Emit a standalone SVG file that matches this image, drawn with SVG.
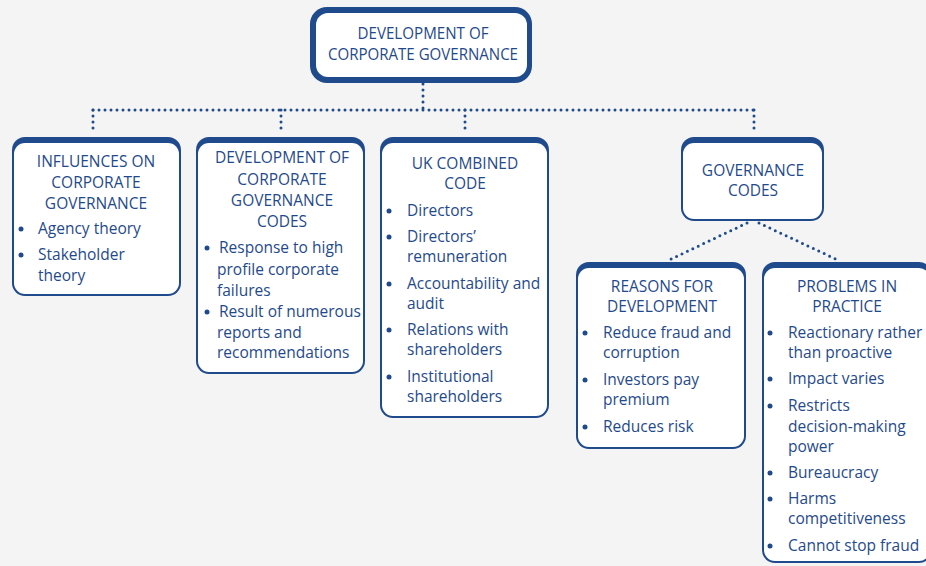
<svg xmlns="http://www.w3.org/2000/svg" width="926" height="566" viewBox="0 0 926 566">
<style>
.t{font-family:"Open Sans","Liberation Sans",sans-serif;font-size:15.5px;fill:#1f4a8c}
.c{text-anchor:middle}
.b{fill:#1f4a8c}
.w{fill:#ffffff}
.dot{fill:none;stroke:#1f4a8c;stroke-width:3;stroke-linecap:round;stroke-dasharray:0 6}
</style>
<rect width="926" height="566" fill="#f4f4f4"/>
<g id="connectors">
<path class="dot" d="M423 84 V110"/>
<path class="dot" d="M93 110 H754"/>
<path class="dot" d="M93 110 V134"/>
<path class="dot" d="M281 110 V134"/>
<path class="dot" d="M465 110 V134"/>
<path class="dot" d="M754 110 V134"/>
<path class="dot" d="M747 223 L667 261"/>
<path class="dot" d="M759 223 L840 261"/>
</g>
<g id="main">
<rect class="b" x="310" y="7" width="222" height="76" rx="17"/>
<rect class="w" x="316" y="13" width="211" height="64" rx="12"/>
<text class="t c" x="423" y="39" style="font-size:16.5px" textLength="131" lengthAdjust="spacingAndGlyphs">DEVELOPMENT OF</text>
<text class="t c" x="423" y="60" style="font-size:16.5px" textLength="190" lengthAdjust="spacingAndGlyphs">CORPORATE GOVERNANCE</text>
</g>
<g id="influences">
<rect class="b" x="12" y="137" width="169" height="159" rx="13"/>
<rect class="w" x="14" y="143" width="165" height="151" rx="11"/>
<text class="t c" x="96" y="167">INFLUENCES ON</text>
<text class="t c" x="96" y="188">CORPORATE</text>
<text class="t c" x="96" y="209">GOVERNANCE</text>
<circle class="b" cx="21" cy="229" r="2.5"/>
<text class="t" x="38" y="234">Agency theory</text>
<circle class="b" cx="21" cy="255" r="2.5"/>
<text class="t" x="38" y="260">Stakeholder</text>
<text class="t" x="38" y="281">theory</text>
</g>
<g id="devcodes">
<rect class="b" x="196" y="137" width="169" height="237" rx="13"/>
<rect class="w" x="198" y="143" width="165" height="229" rx="11"/>
<text class="t c" x="282" y="163">DEVELOPMENT OF</text>
<text class="t c" x="282" y="185">CORPORATE</text>
<text class="t c" x="282" y="206">GOVERNANCE</text>
<text class="t c" x="282" y="227">CODES</text>
<circle class="b" cx="207" cy="248" r="2.5"/>
<text class="t" x="219" y="253">Response to high</text>
<text class="t" x="217" y="275">profile corporate</text>
<text class="t" x="217" y="296">failures</text>
<circle class="b" cx="207" cy="312" r="2.5"/>
<text class="t" x="219" y="317">Result of numerous</text>
<text class="t" x="217" y="338">reports and</text>
<text class="t" x="217" y="358">recommendations</text>
</g>
<g id="ukcode">
<rect class="b" x="380" y="137" width="169" height="281" rx="13"/>
<rect class="w" x="382" y="143" width="165" height="273" rx="11"/>
<text class="t c" x="465" y="169">UK COMBINED</text>
<text class="t c" x="465" y="189">CODE</text>
<circle class="b" cx="389" cy="211" r="2.5"/>
<text class="t" x="407" y="216">Directors</text>
<circle class="b" cx="389" cy="237" r="2.5"/>
<text class="t" x="407" y="242">Directors’</text>
<text class="t" x="407" y="262">remuneration</text>
<circle class="b" cx="389" cy="284" r="2.5"/>
<text class="t" x="407" y="289">Accountability and</text>
<text class="t" x="407" y="309">audit</text>
<circle class="b" cx="389" cy="330" r="2.5"/>
<text class="t" x="407" y="335">Relations with</text>
<text class="t" x="407" y="355">shareholders</text>
<circle class="b" cx="389" cy="377" r="2.5"/>
<text class="t" x="407" y="382">Institutional</text>
<text class="t" x="407" y="402">shareholders</text>
</g>
<g id="govcodes">
<rect class="b" x="681" y="137" width="143" height="84" rx="13"/>
<rect class="w" x="683" y="143" width="139" height="76" rx="11"/>
<text class="t c" x="753" y="176">GOVERNANCE</text>
<text class="t c" x="753" y="196">CODES</text>
</g>
<g id="reasons">
<rect class="b" x="576" y="262" width="170" height="187" rx="13"/>
<rect class="w" x="578" y="268" width="166" height="179" rx="11"/>
<text class="t c" x="662" y="292">REASONS FOR</text>
<text class="t c" x="662" y="312">DEVELOPMENT</text>
<circle class="b" cx="585" cy="333" r="2.5"/>
<text class="t" x="603" y="338">Reduce fraud and</text>
<text class="t" x="603" y="358">corruption</text>
<circle class="b" cx="585" cy="380" r="2.5"/>
<text class="t" x="603" y="385">Investors pay</text>
<text class="t" x="603" y="405">premium</text>
<circle class="b" cx="585" cy="427" r="2.5"/>
<text class="t" x="603" y="432">Reduces risk</text>
</g>
<g id="problems">
<rect class="b" x="762" y="262" width="170" height="301" rx="13"/>
<rect class="w" x="764" y="268" width="166" height="293" rx="11"/>
<text class="t c" x="847" y="292">PROBLEMS IN</text>
<text class="t c" x="847" y="312">PRACTICE</text>
<circle class="b" cx="770" cy="333" r="2.5"/>
<text class="t" x="788" y="338">Reactionary rather</text>
<text class="t" x="788" y="358">than proactive</text>
<circle class="b" cx="770" cy="379" r="2.5"/>
<text class="t" x="788" y="384">Impact varies</text>
<circle class="b" cx="770" cy="406" r="2.5"/>
<text class="t" x="788" y="411">Restricts</text>
<text class="t" x="788" y="432">decision-making</text>
<text class="t" x="788" y="452">power</text>
<circle class="b" cx="770" cy="473" r="2.5"/>
<text class="t" x="788" y="478">Bureaucracy</text>
<circle class="b" cx="770" cy="499" r="2.5"/>
<text class="t" x="788" y="504">Harms</text>
<text class="t" x="788" y="524">competitiveness</text>
<circle class="b" cx="770" cy="546" r="2.5"/>
<text class="t" x="788" y="551">Cannot stop fraud</text>
</g>
</svg>
